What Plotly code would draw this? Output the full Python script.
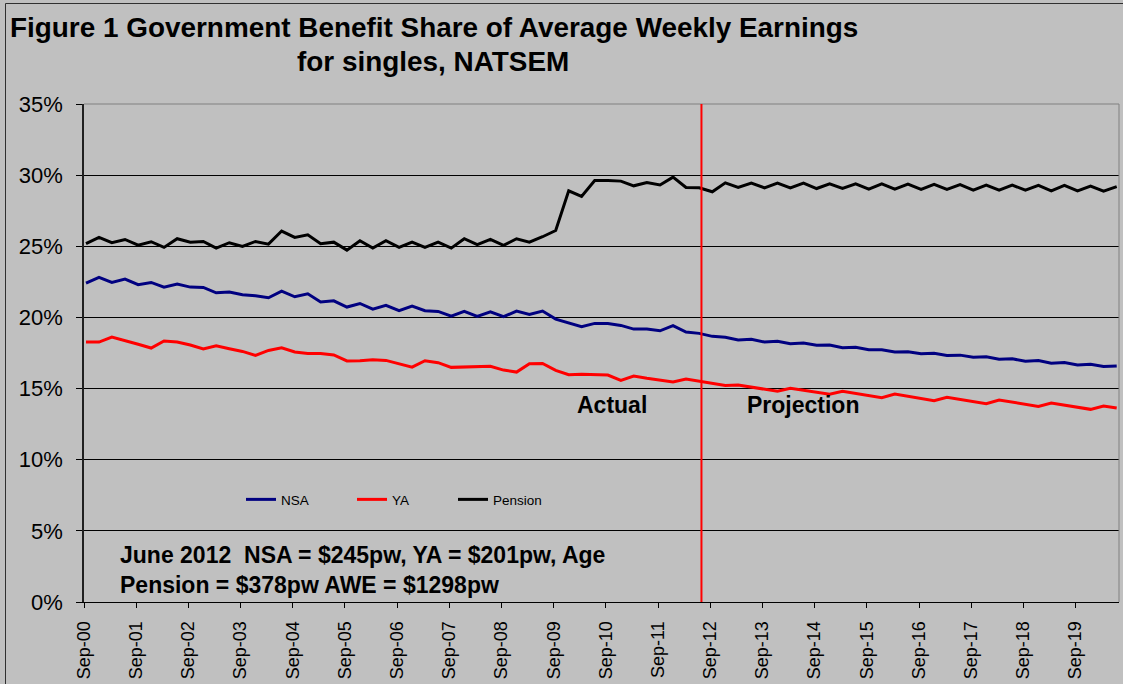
import plotly.graph_objects as go
import pandas as pd

# ---------------- data ----------------
# quarterly observations, Sep-2000 .. Jun-2020 (mid-month)
quarters = [pd.Timestamp(2000 + (8 + 3 * i) // 12, (8 + 3 * i) % 12 + 1, 15) for i in range(80)]

nsa = [22.41, 22.81, 22.46, 22.69, 22.30, 22.46, 22.13, 22.34, 22.13, 22.11,
       21.73, 21.78, 21.59, 21.52, 21.38, 21.85, 21.45, 21.66, 21.08, 21.17,
       20.73, 20.98, 20.58, 20.85, 20.47, 20.80, 20.47, 20.42, 20.09, 20.42,
       20.07, 20.40, 20.05, 20.45, 20.21, 20.45, 19.88, 19.63, 19.35, 19.58,
       19.58, 19.44, 19.18, 19.18, 19.06, 19.42, 18.97, 18.88, 18.67, 18.60,
       18.41, 18.46, 18.27, 18.32, 18.15, 18.20, 18.04, 18.06, 17.87, 17.90,
       17.73, 17.73, 17.57, 17.59, 17.45, 17.48, 17.33, 17.35, 17.21, 17.23,
       17.06, 17.09, 16.92, 16.97, 16.78, 16.83, 16.66, 16.71, 16.55, 16.59]

ya = [18.27, 18.27, 18.62, 18.39, 18.11, 17.85, 18.34, 18.27, 18.06, 17.78,
      18.01, 17.80, 17.61, 17.33, 17.68, 17.87, 17.57, 17.47, 17.47, 17.36,
      16.94, 16.96, 17.03, 16.98, 16.72, 16.51, 16.96, 16.82, 16.49, 16.51,
      16.58, 16.56, 16.30, 16.16, 16.75, 16.77, 16.28, 15.98, 16.00, 15.95,
      15.95, 15.58, 15.88, 15.72, 15.60, 15.46, 15.67, 15.53, 15.37, 15.21,
      15.25, 15.11, 14.97, 14.81, 15.02, 14.88, 14.74, 14.60, 14.81, 14.66,
      14.52, 14.36, 14.62, 14.48, 14.31, 14.15, 14.38, 14.24, 14.10, 13.94,
      14.20, 14.05, 13.91, 13.75, 13.98, 13.84, 13.70, 13.54, 13.77, 13.63]

pension = [25.18, 25.62, 25.25, 25.48, 25.08, 25.32, 24.92, 25.53, 25.29, 25.34,
           24.87, 25.25, 24.99, 25.34, 25.15, 26.07, 25.62, 25.81, 25.18, 25.29,
           24.73, 25.39, 24.87, 25.39, 24.92, 25.29, 24.92, 25.29, 24.87, 25.53,
           25.11, 25.48, 25.06, 25.53, 25.29, 25.67, 26.11, 28.90, 28.50, 29.62,
           29.62, 29.58, 29.25, 29.48, 29.31, 29.86, 29.13, 29.11, 28.83, 29.46,
           29.13, 29.44, 29.11, 29.44, 29.11, 29.44, 29.06, 29.39, 29.06, 29.39,
           29.01, 29.39, 29.01, 29.37, 29.00, 29.35, 29.00, 29.33, 28.95, 29.30,
           28.95, 29.30, 28.95, 29.28, 28.90, 29.28, 28.90, 29.23, 28.88, 29.19]

tick_vals = ["2000-09-01", "2001-09-01", "2002-09-01", "2003-09-01", "2004-09-01",
             "2005-09-01", "2006-09-01", "2007-09-01", "2008-09-01", "2009-09-01",
             "2010-09-01", "2011-09-01", "2012-09-01", "2013-09-01", "2014-09-01",
             "2015-09-01", "2016-09-01", "2017-09-01", "2018-09-01", "2019-09-01"]
tick_text = ["Sep-00", "Sep-01", "Sep-02", "Sep-03", "Sep-04", "Sep-05", "Sep-06",
             "Sep-07", "Sep-08", "Sep-09", "Sep-10", "Sep-11", "Sep-12", "Sep-13",
             "Sep-14", "Sep-15", "Sep-16", "Sep-17", "Sep-18", "Sep-19"]
y_ticks = [0, 5, 10, 15, 20, 25, 30, 35]
y_tick_text = ["0%", "5%", "10%", "15%", "20%", "25%", "30%", "35%"]
projection_start = "2012-07-01"

# ---------------- layout geometry ----------------
W, H = 1123, 684
L, R, T, B = 84, 4, 104, 82
PW, PH = W - L - R, H - T - B
FONT = "Liberation Sans, Arial, sans-serif"


def px_x(px):
    return (px - L) / PW


def px_y(py):
    return (H - B - py) / PH


fig = go.Figure()
fig.add_trace(go.Scatter(x=quarters, y=nsa, mode="lines", name="NSA",
                         line=dict(color="#000080", width=3), legendwidth=66))
fig.add_trace(go.Scatter(x=quarters, y=ya, mode="lines", name="YA",
                         line=dict(color="#FF0000", width=3), legendwidth=56))
fig.add_trace(go.Scatter(x=quarters, y=pension, mode="lines", name="Pension",
                         line=dict(color="#000000", width=3), legendwidth=60))

fig.update_layout(
    width=W, height=H,
    margin=dict(l=L, r=R, t=T, b=B, pad=0),
    paper_bgcolor="#C0C0C0", plot_bgcolor="#C0C0C0",
    font=dict(family=FONT, color="black"),
    showlegend=True,
    legend=dict(orientation="h", x=px_x(241), y=px_y(499.6), xanchor="left", yanchor="middle",
                bgcolor="rgba(0,0,0,0)", font=dict(size=13.5, family=FONT, color="black"),
                traceorder="normal"),
    xaxis=dict(type="date", range=["2000-09-01", "2020-07-01"],
               tickvals=tick_vals, ticktext=tick_text, tickangle=-90,
               tickfont=dict(size=18, family=FONT, color="black"),
               ticks="outside", ticklen=5, tickcolor="black",
               showgrid=False, showline=True, linecolor="black", linewidth=1,
               zeroline=False, ticklabelstandoff=6, automargin=False),
    yaxis=dict(range=[0, 35], tickvals=y_ticks, ticktext=y_tick_text,
               tickfont=dict(size=22, family=FONT, color="black"),
               ticks="outside", ticklen=6, tickcolor="black",
               showgrid=True, gridcolor="#000000", gridwidth=1,
               showline=True, linecolor="#202020", linewidth=1.5,
               zeroline=False, ticklabelstandoff=9, automargin=False),
)

# plot-area border (top & right in grey), red projection divider, outer frame
fig.add_shape(type="line", xref="paper", yref="paper", x0=0, x1=1, y0=1, y1=1,
              line=dict(color="#808080", width=1), layer="above")
fig.add_shape(type="line", xref="paper", yref="paper", x0=1, x1=1, y0=0, y1=1,
              line=dict(color="#808080", width=1), layer="above")
fig.add_shape(type="line", xref="x", yref="paper", x0=projection_start, x1=projection_start,
              y0=0, y1=1, line=dict(color="#FF0000", width=2), layer="above")
fig.add_shape(type="rect", xref="paper", yref="paper",
              x0=px_x(5.5), x1=px_x(1140), y0=px_y(700), y1=px_y(3.5),
              line=dict(color="#303030", width=1), fillcolor="rgba(0,0,0,0)")

bold = dict(family=FONT, color="black")
annots = [
    ("Figure 1 Government Benefit Share of Average Weekly Earnings", 433.5, 27.8, 27.9, "center"),
    ("for singles, NATSEM", 433, 61, 27.9, "center"),
    ("June 2012 \u00a0NSA = $245pw, YA = $201pw, Age", 117.5, 554.5, 23, "left"),
    ("Pension = $378pw AWE = $1298pw", 117.5, 585, 23, "left"),
    ("Actual", 612, 405, 23, "center"),
    ("Projection", 803, 404.7, 23, "center"),
]
for text, ax, ay, size, anchor in annots:
    fig.add_annotation(text="<b>" + text + "</b>", xref="paper", yref="paper",
                       x=px_x(ax), y=px_y(ay), xanchor=anchor, yanchor="middle",
                       showarrow=False, font=dict(size=size, **bold))

fig.write_html("out.html", config={"displayModeBar": False},
               post_script="document.body.style.margin='0';document.body.style.overflow='hidden';")
